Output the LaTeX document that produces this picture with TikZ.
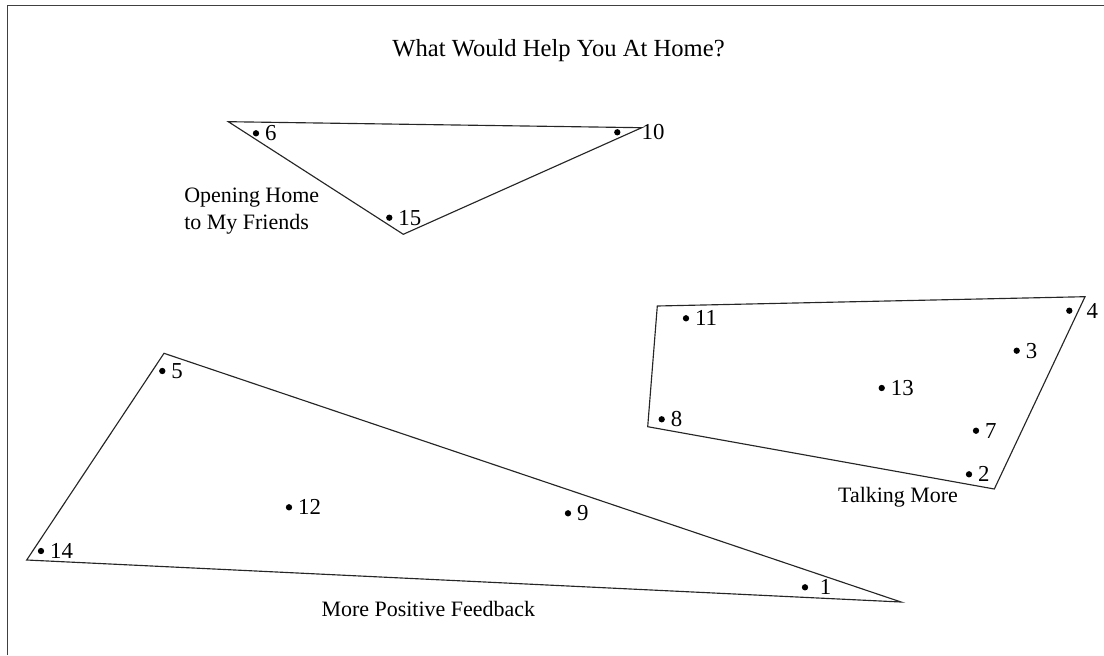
\documentclass[tikz,border=0pt]{standalone}
\usepackage{fontspec}
\setmainfont{Liberation Serif}
\usetikzlibrary{positioning}

\tikzset{
  dot/.style={circle,fill=black,inner sep=0pt,minimum size=3.6pt},
  num/.style={inner sep=0pt,font=\fontsize{13}{15}\selectfont},
  grouplbl/.style={inner sep=0pt,font=\fontsize{12.5}{15.2}\selectfont},
  cluster/.style={draw=black!85,line width=0.65pt,line join=miter},
}

\begin{document}
\begin{tikzpicture}[x=0.02cm,y=-0.02cm]
  \useasboundingbox (0,0) rectangle (1104,655);
  % frame
  \draw[black!75,line width=0.9pt] (7.3,655) -- (7.3,5.7) -- (1104,5.7);
  % title
  \node[inner sep=0pt,anchor=base,font=\fontsize{14}{17}\selectfont] (title) at (558.5,56.7) {What Would Help You At Home?};
  % clusters
  \draw[cluster] (228.3,121.7) -- (641.7,127.7) -- (403.3,234.3) -- cycle;
  \draw[cluster] (657.3,306) -- (1085,296.7) -- (994.3,489) -- (647.7,426.7) -- cycle;
  \draw[cluster] (164,353.3) -- (901,602) -- (26.7,560) -- cycle;
  % points
  \foreach \n/\x/\y/\d in {6/256/133.3/3pt,10/617.3/132.3/11.7pt,15/389.3/217.7/3pt,
      11/686/318.3/3pt,4/1069.3/310.7/7.7pt,3/1016.7/350.7/3pt,13/881.7/388/3pt,
      7/976/430.7/3pt,8/661.7/419.3/3pt,2/969/474.3/3pt,
      5/162.3/371/3pt,12/289/507.3/3pt,9/568/513.3/3pt,14/41/551/3pt,1/805/587.3/6.2pt} {
    \node[dot] (p\n) at (\x,\y) {};
    \node[num,right=\d of p\n] (n\n) {\n};
  }
  % cluster names
  \node[grouplbl,align=left,anchor=north west] (friends) at (184,187.5) {Opening Home\\to My Friends};
  \node[grouplbl,anchor=base] (talking) at (898,502.7) {Talking More};
  \node[grouplbl,anchor=base] (feedback) at (428.3,616) {More Positive Feedback};
\end{tikzpicture}
\end{document}
